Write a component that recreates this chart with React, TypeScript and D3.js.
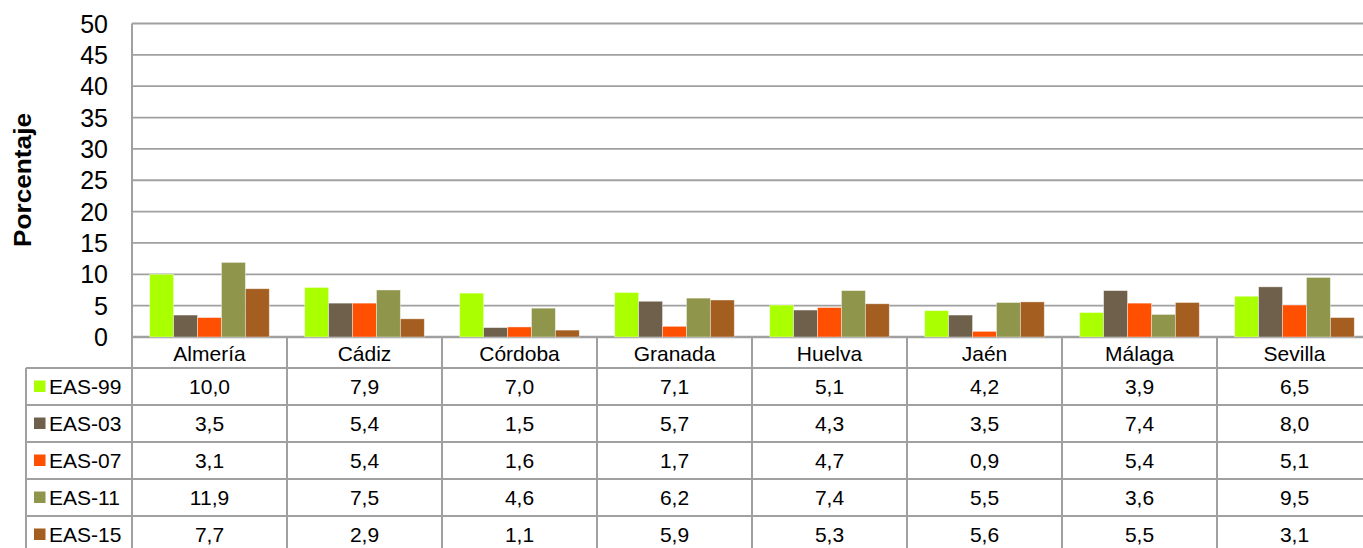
import React, { useEffect } from 'react'
import * as d3 from 'd3'

// provincias y ediciones de la encuesta
const provincias = ['Almería', 'Cádiz', 'Córdoba', 'Granada', 'Huelva', 'Jaén', 'Málaga', 'Sevilla']
const series = ['EAS-99', 'EAS-03', 'EAS-07', 'EAS-11', 'EAS-15']
const eas99 = [10.0, 7.9, 7.0, 7.1, 5.1, 4.2, 3.9, 6.5]
const eas03 = [3.5, 5.4, 1.5, 5.7, 4.3, 3.5, 7.4, 8.0]
const eas07 = [3.1, 5.4, 1.6, 1.7, 4.7, 0.9, 5.4, 5.1]
const eas11 = [11.9, 7.5, 4.6, 6.2, 7.4, 5.5, 3.6, 9.5]
const eas15 = [7.7, 2.9, 1.1, 5.9, 5.3, 5.6, 5.5, 3.1]
const yTicks = [0, 5, 10, 15, 20, 25, 30, 35, 40, 45, 50]
const colores = ['#aaff00', '#6e604a', '#ff4f00', '#8f964c', '#a35e20']

const valores = [eas99, eas03, eas07, eas11, eas15]

const W = 1363
const H = 548
const plotLeft = 132
const plotTop = 23.5
const plotBottom = 337
const groupW = 155
const headerH = 31
const rowH = 37
const tableLeft = 26
const gridColor = '#a0a0a0'
const font = "'Liberation Sans', Arial, sans-serif"

export default function App () {
  useEffect(() => {
    document.body.style.margin = '0'
  }, [])

  const x0 = d3.scaleBand<string>()
    .domain(provincias)
    .range([plotLeft, plotLeft + groupW * provincias.length])
    .padding(0)

  const x1 = d3.scaleBand<string>()
    .domain(series)
    .range([0, x0.bandwidth()])
    .paddingInner(0)
    .paddingOuter(0.74)

  const y = d3.scaleLinear().domain([0, 50]).range([plotBottom, plotTop])

  const fmt = (v: number) => v.toFixed(1).replace('.', ',')
  const tableTop = plotBottom + headerH
  const rightEdge = plotLeft + groupW * provincias.length

  return (
    <svg width={W} height={H} style={{ display: 'block', fontFamily: font }}>
      <rect x={0} y={0} width={W} height={H} fill='#fff' />

      {/* gridlines */}
      {yTicks.map(t => (
        <line key={'g' + t} x1={plotLeft} x2={rightEdge} y1={y(t)} y2={y(t)}
          stroke={gridColor} strokeWidth={t === 0 ? 2.5 : 1.8} />
      ))}
      <line x1={plotLeft} x2={plotLeft} y1={plotTop} y2={H} stroke={gridColor} strokeWidth={2} />

      {/* y tick labels */}
      {yTicks.map(t => (
        <text key={'t' + t} x={108} y={y(t)} dy='0.36em' textAnchor='end' fontSize={25} fill='#000'>{t}</text>
      ))}

      <text transform={`translate(30.5,180) rotate(-90)`}
        textAnchor='middle' fontSize={23} fontWeight='bold' fill='#000'
        textLength={134} lengthAdjust='spacingAndGlyphs'>Porcentaje</text>

      {/* bars */}
      {provincias.map((p, i) => (
        <g key={p} transform={`translate(${x0(p)},0)`}>
          {series.map((s, j) => (
            <rect key={s} x={x1(s)} y={y(valores[j][i])} width={x1.bandwidth()}
              height={y(0) - y(valores[j][i])} fill={colores[j]}
              stroke='#fff' strokeOpacity={0.5} strokeWidth={0.8} />
          ))}
        </g>
      ))}

      {/* data table */}
      {[0, 1, 2, 3, 4].map(r => (
        <line key={'h' + r} x1={tableLeft} x2={rightEdge} y1={tableTop + r * rowH} y2={tableTop + r * rowH}
          stroke={gridColor} strokeWidth={2} />
      ))}
      <line x1={tableLeft} x2={tableLeft} y1={tableTop} y2={H} stroke={gridColor} strokeWidth={2} />
      {provincias.map(p => (
        <line key={'v' + p} x1={(x0(p) as number) + groupW} x2={(x0(p) as number) + groupW}
          y1={plotBottom} y2={H} stroke={gridColor} strokeWidth={2} />
      ))}

      {provincias.map(p => (
        <text key={'c' + p} x={(x0(p) as number) + groupW / 2} y={plotBottom + headerH / 2 + 1}
          dy='0.36em' textAnchor='middle' fontSize={21} fill='#000'>{p}</text>
      ))}

      {series.map((s, j) => {
        const cy = tableTop + j * rowH + rowH / 2
        return (
          <g key={'r' + s}>
            <rect x={34} y={cy - 6} width={11.5} height={11.5} fill={colores[j]} />
            <text x={49} y={cy} dy='0.36em' fontSize={21} fill='#000'>{s}</text>
            {provincias.map((p, i) => (
              <text key={p} x={(x0(p) as number) + groupW / 2} y={cy} dy='0.36em'
                textAnchor='middle' fontSize={21} fill='#000'>{fmt(valores[j][i])}</text>
            ))}
          </g>
        )
      })}
    </svg>
  )
}
